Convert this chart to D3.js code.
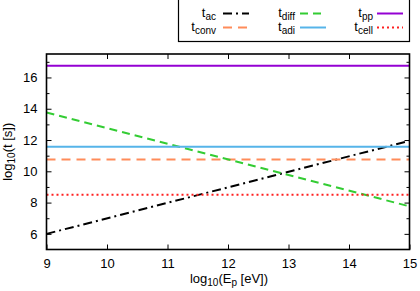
<!DOCTYPE html>
<html><head><meta charset="utf-8">
<script src="https://cdn.jsdelivr.net/npm/d3@7"></script>
<style>
html,body{margin:0;padding:0;background:#fff;}
svg text{font-family:"Liberation Sans",Arial,Helvetica,sans-serif;fill:#000;}
</style></head>
<body>
<svg id="c" width="420" height="291"></svg>
<script>
// ---- data ----
const xEnds = [9, 15];               // log10(Ep [eV]) range of lines
const tAc   = [6.0, 11.95];          // acceleration time (log10 s)
const tDiff = [13.76, 7.76];         // diffusion time
const tConv = [10.75, 10.75];
const tAdi  = [11.57, 11.57];
const tPP   = [16.75, 16.75];
const tCell = [8.5, 8.5];
const xTicks = [9, 10, 11, 12, 13, 14, 15];
const yTicks = [6, 8, 10, 12, 14, 16];
const yMinor = [6, 7, 8, 9, 10, 11, 12, 13, 14, 15, 16, 17];

const series = [
  {name:"ac",   vals:tAc,   color:"#000000", dash:"9,4,2,4", w:2},
  {name:"conv", vals:tConv, color:"#ff8c5a", dash:"9,6",     w:2},
  {name:"diff", vals:tDiff, color:"#33cc33", dash:"8,5",     w:2},
  {name:"adi",  vals:tAdi,  color:"#56b4e9", dash:null,      w:2},
  {name:"pp",   vals:tPP,   color:"#9400d3", dash:null,      w:2},
  {name:"cell", vals:tCell, color:"#ff2020", dash:"2,3",     w:2}
];

const svg = d3.select("#c");
const L = 46.5, R = 409.5, T = 54, B = 249.5;
const x = d3.scaleLinear().domain([9, 15]).range([L, R]);
const y = d3.scaleLinear().domain([5, 17.5]).range([B, T]);

const fs = 13, fsub = 10;

const g = svg.append("g");
const xAxisB = d3.axisBottom(x).tickValues(xTicks).tickSize(-5).tickFormat(d => d).tickPadding(9);
const gb = g.append("g").attr("transform", `translate(0,${B})`).call(xAxisB);
const xAxisT = d3.axisTop(x).tickValues(xTicks.slice(1, -1)).tickSize(-5).tickFormat("");
const gt = g.append("g").attr("transform", `translate(0,${T})`).call(xAxisT);
const yAxisL = d3.axisLeft(y).tickValues(yTicks).tickSize(-5).tickFormat(d => d).tickPadding(9);
const gl = g.append("g").attr("transform", `translate(${L},0)`).call(yAxisL);
const yAxisLm = d3.axisLeft(y).tickValues(yMinor.filter(v => !yTicks.includes(v))).tickSize(-3).tickFormat("");
const glm = g.append("g").attr("transform", `translate(${L},0)`).call(yAxisLm);
const yAxisR = d3.axisRight(y).tickValues(yTicks).tickSize(-5).tickFormat("");
const gr = g.append("g").attr("transform", `translate(${R},0)`).call(yAxisR);
const yAxisRm = d3.axisRight(y).tickValues(yMinor.filter(v => !yTicks.includes(v))).tickSize(-3).tickFormat("");
const grm = g.append("g").attr("transform", `translate(${R},0)`).call(yAxisRm);
[gb, gt, gl, glm, gr, grm].forEach(a => {
  a.select(".domain").remove();
  a.selectAll(".tick line").attr("stroke", "#000").attr("stroke-width", 1);
  a.selectAll("text").style("font-size", fs + "px")
   .style("font-family", '"Liberation Sans",Arial,sans-serif').attr("fill", "#000");
});

// lines
svg.append("clipPath").attr("id", "pc").append("rect")
  .attr("x", L).attr("y", T).attr("width", R - L).attr("height", B - T);
const line = d3.line().x(d => x(d[0])).y(d => y(d[1]));
const lg = svg.append("g").attr("clip-path", "url(#pc)");
series.forEach(s => {
  lg.append("path")
    .datum(xEnds.map((xv, i) => [xv, s.vals[i]]))
    .attr("d", line).attr("fill", "none")
    .attr("stroke", s.color).attr("stroke-width", s.w)
    .attr("stroke-dasharray", s.dash);
});

// frame
svg.append("rect").attr("x", L).attr("y", T).attr("width", R - L).attr("height", B - T)
  .attr("fill", "none").attr("stroke", "#000").attr("stroke-width", 1.6);

// axis labels
const xl = svg.append("text").attr("x", 229).attr("y", 283).attr("text-anchor", "middle")
  .style("font-size", fs + "px");
xl.append("tspan").text("log");
xl.append("tspan").text("10").attr("dy", 3).style("font-size", fsub + "px");
xl.append("tspan").text("(E").attr("dy", -3);
xl.append("tspan").text("p").attr("dy", 3).style("font-size", fsub + "px");
xl.append("tspan").text(" [eV])").attr("dy", -3);

const yl = svg.append("text").attr("transform", `translate(12,${(T + B) / 2}) rotate(-90)`)
  .attr("text-anchor", "middle").style("font-size", fs + "px");
yl.append("tspan").text("log");
yl.append("tspan").text("10").attr("dy", 3).style("font-size", fsub + "px");
yl.append("tspan").text("(t [s])").attr("dy", -3);

// legend
svg.append("rect").attr("x", 178.5).attr("y", -1).attr("width", 231).attr("height", 42.5)
  .attr("fill", "#fff").attr("stroke", "#000").attr("stroke-width", 1.2);
const legendCols = [
  {textRight: 216, s0: 223, s1: 249, items: ["ac", "conv"]},
  {textRight: 295, s0: 300, s1: 326, items: ["diff", "adi"]},
  {textRight: 373, s0: 377, s1: 403, items: ["pp", "cell"]}
];
const rowY = [13.5, 27.5];
legendCols.forEach(col => {
  col.items.forEach((nm, r) => {
    const s = series.find(d => d.name === nm);
    const t = svg.append("text").attr("x", col.textRight).attr("y", rowY[r] + 3.5)
      .attr("text-anchor", "end").style("font-size", fs + "px");
    t.append("tspan").text("t");
    t.append("tspan").text(nm).attr("dy", 2.5).style("font-size", fsub + "px");
    svg.append("line").attr("x1", col.s0).attr("x2", col.s1)
      .attr("y1", rowY[r]).attr("y2", rowY[r])
      .attr("stroke", s.color).attr("stroke-width", s.w)
      .attr("stroke-dasharray", s.dash);
  });
});
</script>
</body></html>
